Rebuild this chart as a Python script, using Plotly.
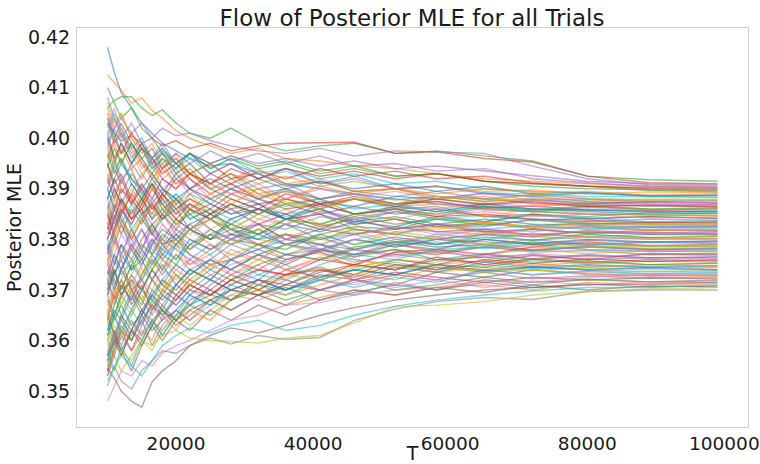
import plotly.graph_objects as go

# Sample sizes (T) at which each trial's posterior MLE is read
T = [10000, 11000, 12000, 13500, 15000, 16500, 18000, 20000, 22000, 25000, 28000,
     32000, 36000, 41000, 46000, 52000, 58000, 65000, 72000, 80000, 89000, 99000]

# Trials that stand out above the band
trials_high = [
    [0.4180, 0.4130, 0.4090, 0.4060, 0.4030, 0.4010, 0.3990, 0.3975, 0.3960, 0.3945, 0.3950, 0.3930, 0.3910, 0.3900, 0.3890, 0.3880, 0.3870, 0.3865, 0.3860, 0.3855, 0.3850, 0.3852],
    [0.4125, 0.4110, 0.4095, 0.4070, 0.4080, 0.4055, 0.4040, 0.4015, 0.4000, 0.3985, 0.3970, 0.3980, 0.3960, 0.3955, 0.3945, 0.3940, 0.3930, 0.3920, 0.3915, 0.3910, 0.3905, 0.3903],
    [0.4060, 0.4075, 0.4082, 0.4082, 0.4060, 0.4045, 0.4056, 0.4030, 0.4010, 0.4000, 0.4020, 0.3990, 0.3975, 0.3985, 0.3990, 0.3970, 0.3975, 0.3965, 0.3955, 0.3925, 0.3918, 0.3915],
    [0.4030, 0.4010, 0.3995, 0.4005, 0.3990, 0.4000, 0.3985, 0.3995, 0.3980, 0.3990, 0.3975, 0.3985, 0.3990, 0.3991, 0.3992, 0.3970, 0.3973, 0.3960, 0.3953, 0.3925, 0.3912, 0.3910],
    [0.3990, 0.4020, 0.4040, 0.4010, 0.4030, 0.4000, 0.4020, 0.4005, 0.4010, 0.3995, 0.3985, 0.3975, 0.3970, 0.3980, 0.3965, 0.3975, 0.3973, 0.3970, 0.3945, 0.3920, 0.3908, 0.3905],
]

# Trials that stand out below the band
trials_low = [
    [0.3545, 0.3525, 0.3500, 0.3480, 0.3468, 0.3518, 0.3540, 0.3560, 0.3590, 0.3610, 0.3625, 0.3615, 0.3630, 0.3650, 0.3665, 0.3680, 0.3690, 0.3700, 0.3705, 0.3710, 0.3712, 0.3715],
    [0.3480, 0.3510, 0.3540, 0.3530, 0.3560, 0.3550, 0.3575, 0.3590, 0.3600, 0.3620, 0.3640, 0.3650, 0.3670, 0.3675, 0.3690, 0.3700, 0.3705, 0.3720, 0.3715, 0.3725, 0.3730, 0.3728],
    [0.3510, 0.3549, 0.3520, 0.3504, 0.3540, 0.3560, 0.3580, 0.3575, 0.3590, 0.3605, 0.3593, 0.3610, 0.3602, 0.3606, 0.3640, 0.3662, 0.3677, 0.3685, 0.3681, 0.3697, 0.3700, 0.3700],
    [0.3560, 0.3540, 0.3580, 0.3560, 0.3600, 0.3590, 0.3610, 0.3620, 0.3605, 0.3600, 0.3598, 0.3595, 0.3605, 0.3610, 0.3635, 0.3667, 0.3670, 0.3677, 0.3690, 0.3697, 0.3702, 0.3705],
    [0.3520, 0.3550, 0.3570, 0.3550, 0.3530, 0.3560, 0.3590, 0.3610, 0.3625, 0.3615, 0.3630, 0.3640, 0.3620, 0.3630, 0.3650, 0.3668, 0.3680, 0.3690, 0.3698, 0.3705, 0.3705, 0.3710],
]

# Trials inside the band, lower half (by final value)
trials_band_lower = [
    [0.3620, 0.3660, 0.3640, 0.3690, 0.3650, 0.3700, 0.3680, 0.3710, 0.3690, 0.3720, 0.3700, 0.3690, 0.3705, 0.3680, 0.3695, 0.3710, 0.3700, 0.3715, 0.3705, 0.3712, 0.3706, 0.3708],
    [0.3850, 0.3800, 0.3760, 0.3790, 0.3740, 0.3720, 0.3760, 0.3730, 0.3700, 0.3680, 0.3700, 0.3690, 0.3670, 0.3685, 0.3700, 0.3690, 0.3705, 0.3710, 0.3700, 0.3715, 0.3710, 0.3712],
    [0.3570, 0.3600, 0.3650, 0.3620, 0.3660, 0.3640, 0.3610, 0.3650, 0.3670, 0.3650, 0.3680, 0.3700, 0.3680, 0.3700, 0.3720, 0.3700, 0.3710, 0.3725, 0.3715, 0.3720, 0.3716, 0.3718],
    [0.3950, 0.3900, 0.3870, 0.3840, 0.3860, 0.3810, 0.3790, 0.3800, 0.3770, 0.3750, 0.3760, 0.3740, 0.3730, 0.3745, 0.3720, 0.3735, 0.3725, 0.3715, 0.3725, 0.3720, 0.3724, 0.3722],
    [0.3700, 0.3740, 0.3690, 0.3720, 0.3680, 0.3650, 0.3690, 0.3670, 0.3700, 0.3690, 0.3710, 0.3690, 0.3720, 0.3700, 0.3715, 0.3730, 0.3720, 0.3735, 0.3722, 0.3728, 0.3723, 0.3725],
    [0.3780, 0.3730, 0.3760, 0.3700, 0.3720, 0.3680, 0.3660, 0.3640, 0.3660, 0.3680, 0.3660, 0.3690, 0.3710, 0.3700, 0.3720, 0.3710, 0.3735, 0.3725, 0.3740, 0.3732, 0.3728, 0.3730],
    [0.3640, 0.3590, 0.3620, 0.3580, 0.3610, 0.3640, 0.3620, 0.3660, 0.3640, 0.3670, 0.3690, 0.3680, 0.3700, 0.3720, 0.3710, 0.3730, 0.3720, 0.3740, 0.3730, 0.3736, 0.3731, 0.3733],
    [0.4010, 0.3960, 0.3920, 0.3940, 0.3890, 0.3860, 0.3880, 0.3840, 0.3820, 0.3800, 0.3810, 0.3790, 0.3770, 0.3780, 0.3760, 0.3750, 0.3745, 0.3735, 0.3745, 0.3740, 0.3736, 0.3738],
    [0.3590, 0.3630, 0.3600, 0.3650, 0.3700, 0.3670, 0.3720, 0.3690, 0.3710, 0.3690, 0.3720, 0.3700, 0.3725, 0.3745, 0.3730, 0.3750, 0.3735, 0.3745, 0.3738, 0.3744, 0.3740, 0.3741],
    [0.3820, 0.3860, 0.3830, 0.3790, 0.3820, 0.3780, 0.3760, 0.3790, 0.3770, 0.3740, 0.3760, 0.3730, 0.3750, 0.3720, 0.3740, 0.3755, 0.3740, 0.3750, 0.3742, 0.3748, 0.3744, 0.3745],
    [0.3680, 0.3640, 0.3670, 0.3630, 0.3650, 0.3620, 0.3640, 0.3660, 0.3690, 0.3670, 0.3700, 0.3720, 0.3700, 0.3730, 0.3720, 0.3745, 0.3735, 0.3755, 0.3745, 0.3750, 0.3746, 0.3748],
    [0.3920, 0.3960, 0.3900, 0.3880, 0.3850, 0.3870, 0.3830, 0.3800, 0.3820, 0.3790, 0.3770, 0.3790, 0.3760, 0.3775, 0.3745, 0.3760, 0.3750, 0.3758, 0.3748, 0.3755, 0.3750, 0.3752],
    [0.3550, 0.3600, 0.3570, 0.3620, 0.3590, 0.3630, 0.3660, 0.3640, 0.3670, 0.3690, 0.3680, 0.3710, 0.3700, 0.3720, 0.3740, 0.3730, 0.3750, 0.3745, 0.3760, 0.3752, 0.3757, 0.3755],
    [0.3760, 0.3720, 0.3690, 0.3730, 0.3700, 0.3740, 0.3710, 0.3690, 0.3720, 0.3700, 0.3730, 0.3710, 0.3740, 0.3725, 0.3750, 0.3740, 0.3765, 0.3750, 0.3762, 0.3755, 0.3760, 0.3758],
    [0.4050, 0.4010, 0.3970, 0.3990, 0.3950, 0.3930, 0.3900, 0.3880, 0.3860, 0.3840, 0.3820, 0.3830, 0.3800, 0.3790, 0.3780, 0.3770, 0.3775, 0.3765, 0.3770, 0.3760, 0.3764, 0.3762],
    [0.3650, 0.3610, 0.3580, 0.3620, 0.3600, 0.3640, 0.3660, 0.3630, 0.3650, 0.3680, 0.3700, 0.3690, 0.3710, 0.3740, 0.3730, 0.3760, 0.3750, 0.3770, 0.3760, 0.3768, 0.3763, 0.3765],
    [0.3870, 0.3830, 0.3850, 0.3800, 0.3770, 0.3800, 0.3760, 0.3740, 0.3760, 0.3730, 0.3750, 0.3770, 0.3740, 0.3760, 0.3780, 0.3765, 0.3780, 0.3760, 0.3772, 0.3765, 0.3770, 0.3768],
    [0.3720, 0.3770, 0.3740, 0.3790, 0.3760, 0.3800, 0.3780, 0.3820, 0.3800, 0.3780, 0.3800, 0.3790, 0.3770, 0.3790, 0.3765, 0.3780, 0.3770, 0.3785, 0.3775, 0.3778, 0.3770, 0.3772],
    [0.3600, 0.3570, 0.3540, 0.3570, 0.3600, 0.3580, 0.3620, 0.3650, 0.3630, 0.3660, 0.3690, 0.3710, 0.3730, 0.3720, 0.3745, 0.3760, 0.3755, 0.3770, 0.3780, 0.3772, 0.3777, 0.3775],
    [0.3980, 0.3940, 0.3960, 0.3920, 0.3890, 0.3910, 0.3870, 0.3890, 0.3860, 0.3840, 0.3820, 0.3810, 0.3830, 0.3800, 0.3810, 0.3790, 0.3795, 0.3782, 0.3790, 0.3780, 0.3776, 0.3778],
    [0.3800, 0.3840, 0.3880, 0.3850, 0.3880, 0.3840, 0.3860, 0.3830, 0.3850, 0.3820, 0.3800, 0.3820, 0.3790, 0.3805, 0.3780, 0.3795, 0.3785, 0.3790, 0.3778, 0.3785, 0.3780, 0.3781],
    [0.3660, 0.3700, 0.3670, 0.3710, 0.3680, 0.3720, 0.3700, 0.3740, 0.3720, 0.3750, 0.3730, 0.3760, 0.3740, 0.3765, 0.3750, 0.3775, 0.3770, 0.3790, 0.3780, 0.3788, 0.3782, 0.3784],
    [0.4100, 0.4070, 0.4040, 0.4060, 0.4020, 0.4000, 0.3970, 0.3950, 0.3930, 0.3900, 0.3880, 0.3860, 0.3840, 0.3850, 0.3820, 0.3810, 0.3800, 0.3795, 0.3790, 0.3792, 0.3786, 0.3787],
    [0.3540, 0.3580, 0.3620, 0.3600, 0.3640, 0.3670, 0.3650, 0.3680, 0.3710, 0.3690, 0.3720, 0.3740, 0.3730, 0.3760, 0.3750, 0.3775, 0.3780, 0.3770, 0.3785, 0.3795, 0.3788, 0.3790],
    [0.3900, 0.3860, 0.3880, 0.3840, 0.3860, 0.3830, 0.3850, 0.3810, 0.3830, 0.3800, 0.3820, 0.3790, 0.3810, 0.3780, 0.3800, 0.3785, 0.3800, 0.3790, 0.3800, 0.3790, 0.3795, 0.3793],
    [0.3750, 0.3710, 0.3740, 0.3700, 0.3660, 0.3690, 0.3720, 0.3700, 0.3730, 0.3760, 0.3740, 0.3770, 0.3750, 0.3780, 0.3770, 0.3790, 0.3780, 0.3800, 0.3790, 0.3798, 0.3794, 0.3796],
    [0.4000, 0.4040, 0.4010, 0.3970, 0.3990, 0.3950, 0.3920, 0.3940, 0.3900, 0.3880, 0.3900, 0.3870, 0.3850, 0.3860, 0.3830, 0.3840, 0.3815, 0.3810, 0.3805, 0.3800, 0.3802, 0.3799],
    [0.3690, 0.3650, 0.3620, 0.3660, 0.3700, 0.3740, 0.3710, 0.3750, 0.3730, 0.3760, 0.3790, 0.3770, 0.3790, 0.3775, 0.3800, 0.3785, 0.3800, 0.3810, 0.3798, 0.3805, 0.3800, 0.3802],
    [0.3850, 0.3890, 0.3860, 0.3900, 0.3870, 0.3910, 0.3890, 0.3860, 0.3880, 0.3850, 0.3870, 0.3840, 0.3860, 0.3830, 0.3820, 0.3810, 0.3800, 0.3815, 0.3805, 0.3810, 0.3803, 0.3805],
    [0.3610, 0.3650, 0.3690, 0.3660, 0.3700, 0.3680, 0.3720, 0.3750, 0.3730, 0.3760, 0.3740, 0.3770, 0.3790, 0.3780, 0.3800, 0.3790, 0.3810, 0.3800, 0.3812, 0.3805, 0.3810, 0.3808],
]

# Trials inside the band, upper half (by final value)
trials_band_upper = [
    [0.3950, 0.3910, 0.3930, 0.3880, 0.3850, 0.3870, 0.3840, 0.3860, 0.3820, 0.3840, 0.3810, 0.3830, 0.3800, 0.3820, 0.3810, 0.3825, 0.3815, 0.3820, 0.3808, 0.3815, 0.3810, 0.3811],
    [0.3730, 0.3770, 0.3810, 0.3780, 0.3820, 0.3790, 0.3830, 0.3800, 0.3780, 0.3810, 0.3790, 0.3820, 0.3800, 0.3830, 0.3810, 0.3825, 0.3810, 0.3818, 0.3810, 0.3816, 0.3812, 0.3814],
    [0.3580, 0.3620, 0.3590, 0.3640, 0.3610, 0.3660, 0.3690, 0.3670, 0.3700, 0.3730, 0.3710, 0.3740, 0.3770, 0.3760, 0.3780, 0.3800, 0.3790, 0.3810, 0.3820, 0.3812, 0.3818, 0.3817],
    [0.4070, 0.4030, 0.4050, 0.4000, 0.3980, 0.3950, 0.3970, 0.3930, 0.3950, 0.3910, 0.3890, 0.3900, 0.3870, 0.3880, 0.3850, 0.3860, 0.3840, 0.3835, 0.3825, 0.3822, 0.3818, 0.3820],
    [0.3800, 0.3760, 0.3730, 0.3760, 0.3720, 0.3750, 0.3780, 0.3760, 0.3790, 0.3770, 0.3800, 0.3780, 0.3810, 0.3800, 0.3820, 0.3810, 0.3830, 0.3820, 0.3828, 0.3820, 0.3825, 0.3823],
    [0.3880, 0.3920, 0.3950, 0.3920, 0.3900, 0.3930, 0.3900, 0.3880, 0.3900, 0.3870, 0.3850, 0.3870, 0.3840, 0.3860, 0.3835, 0.3845, 0.3830, 0.3840, 0.3830, 0.3828, 0.3824, 0.3826],
    [0.3640, 0.3690, 0.3720, 0.3690, 0.3730, 0.3760, 0.3740, 0.3770, 0.3750, 0.3780, 0.3800, 0.3790, 0.3810, 0.3800, 0.3820, 0.3810, 0.3825, 0.3835, 0.3825, 0.3832, 0.3827, 0.3829],
    [0.3700, 0.3740, 0.3700, 0.3750, 0.3790, 0.3770, 0.3810, 0.3790, 0.3820, 0.3800, 0.3830, 0.3810, 0.3840, 0.3820, 0.3845, 0.3830, 0.3840, 0.3828, 0.3838, 0.3830, 0.3834, 0.3832],
    [0.3960, 0.4000, 0.3970, 0.4010, 0.3980, 0.3960, 0.3930, 0.3950, 0.3920, 0.3890, 0.3910, 0.3880, 0.3860, 0.3870, 0.3850, 0.3860, 0.3845, 0.3850, 0.3840, 0.3838, 0.3833, 0.3835],
    [0.3560, 0.3600, 0.3640, 0.3610, 0.3650, 0.3690, 0.3670, 0.3710, 0.3740, 0.3720, 0.3760, 0.3780, 0.3800, 0.3790, 0.3810, 0.3820, 0.3830, 0.3825, 0.3840, 0.3835, 0.3840, 0.3838],
    [0.3830, 0.3870, 0.3840, 0.3800, 0.3840, 0.3810, 0.3850, 0.3820, 0.3860, 0.3840, 0.3870, 0.3850, 0.3870, 0.3850, 0.3865, 0.3850, 0.3860, 0.3845, 0.3850, 0.3842, 0.3845, 0.3841],
    [0.3760, 0.3800, 0.3770, 0.3810, 0.3780, 0.3820, 0.3790, 0.3830, 0.3810, 0.3840, 0.3820, 0.3850, 0.3830, 0.3855, 0.3840, 0.3860, 0.3848, 0.3855, 0.3845, 0.3850, 0.3842, 0.3844],
    [0.4030, 0.3990, 0.4010, 0.3960, 0.3990, 0.3950, 0.3970, 0.3930, 0.3950, 0.3910, 0.3930, 0.3900, 0.3910, 0.3880, 0.3890, 0.3870, 0.3875, 0.3860, 0.3855, 0.3850, 0.3849, 0.3847],
    [0.3670, 0.3710, 0.3680, 0.3730, 0.3770, 0.3740, 0.3780, 0.3800, 0.3780, 0.3810, 0.3790, 0.3820, 0.3840, 0.3830, 0.3850, 0.3840, 0.3855, 0.3845, 0.3860, 0.3852, 0.3848, 0.3850],
    [0.3900, 0.3860, 0.3830, 0.3870, 0.3840, 0.3880, 0.3850, 0.3890, 0.3860, 0.3880, 0.3860, 0.3880, 0.3865, 0.3880, 0.3860, 0.3870, 0.3855, 0.3865, 0.3855, 0.3860, 0.3855, 0.3853],
    [0.3740, 0.3700, 0.3740, 0.3780, 0.3750, 0.3790, 0.3820, 0.3800, 0.3830, 0.3850, 0.3830, 0.3860, 0.3840, 0.3870, 0.3850, 0.3865, 0.3855, 0.3870, 0.3860, 0.3858, 0.3854, 0.3856],
    [0.3990, 0.3950, 0.3980, 0.3940, 0.3960, 0.3920, 0.3940, 0.3960, 0.3930, 0.3950, 0.3920, 0.3940, 0.3910, 0.3920, 0.3895, 0.3900, 0.3880, 0.3885, 0.3870, 0.3865, 0.3860, 0.3859],
    [0.3610, 0.3650, 0.3690, 0.3720, 0.3700, 0.3740, 0.3770, 0.3750, 0.3790, 0.3810, 0.3830, 0.3810, 0.3840, 0.3830, 0.3850, 0.3860, 0.3850, 0.3865, 0.3858, 0.3866, 0.3860, 0.3862],
    [0.3850, 0.3810, 0.3850, 0.3890, 0.3860, 0.3900, 0.3870, 0.3840, 0.3870, 0.3850, 0.3880, 0.3860, 0.3890, 0.3870, 0.3885, 0.3870, 0.3880, 0.3868, 0.3875, 0.3865, 0.3868, 0.3865],
    [0.4080, 0.4040, 0.4000, 0.4030, 0.3990, 0.3960, 0.3990, 0.3950, 0.3970, 0.3930, 0.3950, 0.3920, 0.3940, 0.3910, 0.3925, 0.3900, 0.3905, 0.3890, 0.3885, 0.3875, 0.3870, 0.3868],
    [0.3710, 0.3750, 0.3790, 0.3760, 0.3800, 0.3830, 0.3800, 0.3840, 0.3820, 0.3850, 0.3870, 0.3850, 0.3880, 0.3860, 0.3880, 0.3865, 0.3880, 0.3870, 0.3878, 0.3870, 0.3874, 0.3871],
    [0.3930, 0.3890, 0.3920, 0.3880, 0.3910, 0.3870, 0.3900, 0.3920, 0.3890, 0.3910, 0.3890, 0.3910, 0.3880, 0.3900, 0.3885, 0.3895, 0.3880, 0.3890, 0.3878, 0.3880, 0.3872, 0.3874],
    [0.3780, 0.3820, 0.3860, 0.3830, 0.3870, 0.3840, 0.3880, 0.3850, 0.3890, 0.3870, 0.3900, 0.3880, 0.3900, 0.3880, 0.3895, 0.3885, 0.3895, 0.3880, 0.3888, 0.3880, 0.3876, 0.3877],
    [0.3630, 0.3670, 0.3720, 0.3760, 0.3730, 0.3770, 0.3800, 0.3780, 0.3820, 0.3840, 0.3820, 0.3850, 0.3870, 0.3860, 0.3880, 0.3870, 0.3885, 0.3875, 0.3890, 0.3882, 0.3878, 0.3880],
    [0.4010, 0.4050, 0.4020, 0.3980, 0.4000, 0.3960, 0.3980, 0.3950, 0.3970, 0.3940, 0.3960, 0.3930, 0.3940, 0.3920, 0.3930, 0.3910, 0.3915, 0.3900, 0.3895, 0.3890, 0.3885, 0.3884],
    [0.3860, 0.3900, 0.3870, 0.3910, 0.3880, 0.3920, 0.3890, 0.3930, 0.3900, 0.3920, 0.3900, 0.3920, 0.3900, 0.3915, 0.3900, 0.3910, 0.3895, 0.3905, 0.3890, 0.3893, 0.3886, 0.3887],
    [0.3750, 0.3790, 0.3830, 0.3800, 0.3840, 0.3870, 0.3850, 0.3880, 0.3860, 0.3890, 0.3870, 0.3900, 0.3880, 0.3905, 0.3890, 0.3900, 0.3890, 0.3900, 0.3893, 0.3895, 0.3888, 0.3890],
    [0.3940, 0.3980, 0.3950, 0.3990, 0.3960, 0.3930, 0.3960, 0.3940, 0.3970, 0.3940, 0.3960, 0.3940, 0.3950, 0.3930, 0.3940, 0.3925, 0.3930, 0.3915, 0.3910, 0.3905, 0.3897, 0.3894],
    [0.3820, 0.3860, 0.3900, 0.3870, 0.3910, 0.3880, 0.3920, 0.3900, 0.3930, 0.3910, 0.3940, 0.3920, 0.3940, 0.3925, 0.3935, 0.3920, 0.3930, 0.3915, 0.3910, 0.3905, 0.3900, 0.3898],
    [0.3900, 0.3940, 0.3910, 0.3950, 0.3920, 0.3960, 0.3940, 0.3970, 0.3950, 0.3975, 0.3955, 0.3970, 0.3950, 0.3965, 0.3945, 0.3950, 0.3935, 0.3940, 0.3920, 0.3912, 0.3905, 0.3902],
]

# Further trials that fill the dense part of the band
trials_band_extra = [
    [0.3570, 0.3620, 0.3580, 0.3540, 0.3590, 0.3630, 0.3600, 0.3640, 0.3620, 0.3660, 0.3640, 0.3670, 0.3650, 0.3680, 0.3700, 0.3690, 0.3705, 0.3695, 0.3710, 0.3700, 0.3708, 0.3706],
    [0.3880, 0.3830, 0.3870, 0.3820, 0.3780, 0.3820, 0.3770, 0.3790, 0.3750, 0.3770, 0.3730, 0.3750, 0.3720, 0.3700, 0.3720, 0.3705, 0.3720, 0.3705, 0.3718, 0.3710, 0.3716, 0.3714],
    [0.3660, 0.3610, 0.3650, 0.3600, 0.3640, 0.3590, 0.3630, 0.3660, 0.3640, 0.3680, 0.3660, 0.3690, 0.3670, 0.3700, 0.3690, 0.3715, 0.3700, 0.3720, 0.3710, 0.3722, 0.3716, 0.3720],
    [0.4040, 0.3990, 0.4020, 0.3970, 0.3930, 0.3950, 0.3900, 0.3870, 0.3890, 0.3850, 0.3820, 0.3800, 0.3790, 0.3770, 0.3760, 0.3745, 0.3750, 0.3735, 0.3740, 0.3730, 0.3728, 0.3727],
    [0.3600, 0.3650, 0.3610, 0.3660, 0.3630, 0.3680, 0.3650, 0.3690, 0.3670, 0.3700, 0.3680, 0.3710, 0.3690, 0.3720, 0.3705, 0.3725, 0.3715, 0.3740, 0.3730, 0.3738, 0.3732, 0.3735],
    [0.3790, 0.3750, 0.3790, 0.3740, 0.3760, 0.3720, 0.3750, 0.3710, 0.3740, 0.3720, 0.3700, 0.3720, 0.3700, 0.3725, 0.3740, 0.3730, 0.3750, 0.3738, 0.3746, 0.3740, 0.3744, 0.3740],
    [0.3530, 0.3580, 0.3620, 0.3580, 0.3620, 0.3600, 0.3650, 0.3620, 0.3660, 0.3640, 0.3680, 0.3700, 0.3690, 0.3710, 0.3730, 0.3720, 0.3745, 0.3740, 0.3752, 0.3745, 0.3750, 0.3747],
    [0.3970, 0.3930, 0.3960, 0.3910, 0.3880, 0.3910, 0.3860, 0.3880, 0.3840, 0.3860, 0.3820, 0.3800, 0.3810, 0.3790, 0.3770, 0.3780, 0.3760, 0.3765, 0.3755, 0.3758, 0.3750, 0.3753],
    [0.3720, 0.3680, 0.3720, 0.3670, 0.3710, 0.3660, 0.3700, 0.3680, 0.3710, 0.3690, 0.3720, 0.3700, 0.3730, 0.3740, 0.3725, 0.3750, 0.3740, 0.3760, 0.3752, 0.3762, 0.3756, 0.3760],
    [0.3830, 0.3790, 0.3830, 0.3780, 0.3820, 0.3770, 0.3800, 0.3780, 0.3760, 0.3790, 0.3760, 0.3780, 0.3760, 0.3775, 0.3755, 0.3770, 0.3760, 0.3772, 0.3762, 0.3770, 0.3764, 0.3766],
    [0.3560, 0.3610, 0.3570, 0.3620, 0.3660, 0.3630, 0.3670, 0.3640, 0.3680, 0.3700, 0.3680, 0.3720, 0.3710, 0.3735, 0.3750, 0.3740, 0.3760, 0.3755, 0.3768, 0.3760, 0.3772, 0.3770],
    [0.4020, 0.4060, 0.4010, 0.3980, 0.3940, 0.3960, 0.3920, 0.3900, 0.3920, 0.3880, 0.3860, 0.3870, 0.3840, 0.3820, 0.3830, 0.3800, 0.3805, 0.3790, 0.3785, 0.3780, 0.3778, 0.3776],
    [0.3690, 0.3740, 0.3700, 0.3750, 0.3720, 0.3760, 0.3730, 0.3770, 0.3740, 0.3760, 0.3740, 0.3770, 0.3755, 0.3780, 0.3765, 0.3790, 0.3775, 0.3785, 0.3778, 0.3786, 0.3780, 0.3782],
    [0.3880, 0.3920, 0.3880, 0.3850, 0.3890, 0.3840, 0.3870, 0.3830, 0.3860, 0.3820, 0.3840, 0.3810, 0.3830, 0.3800, 0.3815, 0.3795, 0.3805, 0.3790, 0.3795, 0.3785, 0.3788, 0.3786],
    [0.3580, 0.3540, 0.3590, 0.3550, 0.3600, 0.3640, 0.3610, 0.3650, 0.3690, 0.3670, 0.3710, 0.3730, 0.3720, 0.3750, 0.3770, 0.3760, 0.3780, 0.3785, 0.3795, 0.3788, 0.3794, 0.3792],
    [0.3770, 0.3810, 0.3770, 0.3820, 0.3780, 0.3830, 0.3790, 0.3810, 0.3780, 0.3810, 0.3790, 0.3810, 0.3790, 0.3810, 0.3790, 0.3805, 0.3790, 0.3800, 0.3792, 0.3800, 0.3795, 0.3797],
    [0.4060, 0.4020, 0.4050, 0.4000, 0.3970, 0.3990, 0.3950, 0.3970, 0.3930, 0.3910, 0.3930, 0.3890, 0.3870, 0.3880, 0.3850, 0.3840, 0.3825, 0.3815, 0.3810, 0.3805, 0.3803, 0.3801],
    [0.3640, 0.3690, 0.3650, 0.3700, 0.3670, 0.3720, 0.3690, 0.3730, 0.3710, 0.3740, 0.3720, 0.3750, 0.3770, 0.3760, 0.3785, 0.3795, 0.3790, 0.3805, 0.3798, 0.3810, 0.3804, 0.3806],
    [0.3920, 0.3880, 0.3920, 0.3870, 0.3900, 0.3860, 0.3890, 0.3850, 0.3870, 0.3840, 0.3860, 0.3830, 0.3850, 0.3825, 0.3840, 0.3820, 0.3830, 0.3815, 0.3820, 0.3812, 0.3814, 0.3810],
    [0.3530, 0.3570, 0.3610, 0.3580, 0.3630, 0.3670, 0.3640, 0.3690, 0.3670, 0.3710, 0.3740, 0.3720, 0.3760, 0.3780, 0.3770, 0.3795, 0.3800, 0.3810, 0.3805, 0.3818, 0.3812, 0.3815],
    [0.3810, 0.3850, 0.3810, 0.3860, 0.3830, 0.3870, 0.3840, 0.3880, 0.3850, 0.3870, 0.3850, 0.3860, 0.3840, 0.3850, 0.3830, 0.3840, 0.3825, 0.3832, 0.3822, 0.3825, 0.3818, 0.3819],
    [0.3710, 0.3670, 0.3710, 0.3680, 0.3720, 0.3700, 0.3740, 0.3720, 0.3760, 0.3740, 0.3780, 0.3760, 0.3790, 0.3780, 0.3800, 0.3815, 0.3805, 0.3820, 0.3815, 0.3826, 0.3820, 0.3824],
    [0.4000, 0.3960, 0.3990, 0.3950, 0.3980, 0.3940, 0.3960, 0.3920, 0.3940, 0.3900, 0.3920, 0.3890, 0.3900, 0.3870, 0.3880, 0.3860, 0.3865, 0.3845, 0.3840, 0.3832, 0.3830, 0.3828],
    [0.3600, 0.3640, 0.3680, 0.3650, 0.3690, 0.3660, 0.3700, 0.3730, 0.3710, 0.3750, 0.3770, 0.3760, 0.3790, 0.3800, 0.3790, 0.3815, 0.3820, 0.3830, 0.3825, 0.3836, 0.3830, 0.3833],
    [0.3860, 0.3820, 0.3860, 0.3820, 0.3850, 0.3810, 0.3840, 0.3870, 0.3840, 0.3860, 0.3840, 0.3860, 0.3845, 0.3860, 0.3840, 0.3855, 0.3840, 0.3848, 0.3838, 0.3842, 0.3835, 0.3837],
    [0.3690, 0.3730, 0.3770, 0.3740, 0.3780, 0.3750, 0.3790, 0.3760, 0.3800, 0.3780, 0.3810, 0.3800, 0.3830, 0.3815, 0.3835, 0.3825, 0.3845, 0.3835, 0.3848, 0.3840, 0.3845, 0.3842],
    [0.3950, 0.3990, 0.3950, 0.3990, 0.3950, 0.3920, 0.3950, 0.3910, 0.3930, 0.3900, 0.3910, 0.3885, 0.3895, 0.3870, 0.3880, 0.3865, 0.3870, 0.3858, 0.3855, 0.3850, 0.3848, 0.3846],
    [0.3540, 0.3590, 0.3630, 0.3600, 0.3650, 0.3690, 0.3660, 0.3710, 0.3740, 0.3720, 0.3760, 0.3790, 0.3780, 0.3810, 0.3825, 0.3820, 0.3840, 0.3835, 0.3850, 0.3845, 0.3853, 0.3851],
    [0.3800, 0.3840, 0.3880, 0.3840, 0.3880, 0.3850, 0.3890, 0.3860, 0.3880, 0.3860, 0.3890, 0.3870, 0.3880, 0.3865, 0.3880, 0.3870, 0.3875, 0.3862, 0.3866, 0.3858, 0.3857, 0.3855],
    [0.3730, 0.3770, 0.3740, 0.3790, 0.3760, 0.3800, 0.3770, 0.3810, 0.3790, 0.3820, 0.3800, 0.3830, 0.3820, 0.3845, 0.3835, 0.3855, 0.3845, 0.3862, 0.3855, 0.3864, 0.3858, 0.3860],
    [0.4040, 0.4000, 0.4030, 0.3990, 0.3960, 0.3980, 0.3940, 0.3960, 0.3930, 0.3950, 0.3920, 0.3930, 0.3905, 0.3915, 0.3895, 0.3900, 0.3885, 0.3880, 0.3872, 0.3868, 0.3866, 0.3864],
    [0.3650, 0.3700, 0.3740, 0.3710, 0.3750, 0.3790, 0.3760, 0.3800, 0.3780, 0.3820, 0.3800, 0.3840, 0.3830, 0.3855, 0.3845, 0.3865, 0.3860, 0.3872, 0.3865, 0.3872, 0.3866, 0.3869],
    [0.3880, 0.3920, 0.3890, 0.3930, 0.3900, 0.3870, 0.3900, 0.3870, 0.3900, 0.3880, 0.3900, 0.3880, 0.3895, 0.3880, 0.3890, 0.3878, 0.3885, 0.3875, 0.3880, 0.3872, 0.3875, 0.3873],
    [0.3760, 0.3800, 0.3840, 0.3810, 0.3850, 0.3820, 0.3860, 0.3830, 0.3860, 0.3840, 0.3870, 0.3850, 0.3875, 0.3860, 0.3880, 0.3870, 0.3885, 0.3875, 0.3882, 0.3876, 0.3880, 0.3878],
    [0.3980, 0.4020, 0.3990, 0.3950, 0.3980, 0.3940, 0.3970, 0.3940, 0.3960, 0.3930, 0.3950, 0.3920, 0.3935, 0.3910, 0.3920, 0.3900, 0.3905, 0.3892, 0.3890, 0.3885, 0.3884, 0.3883],
    [0.3620, 0.3670, 0.3710, 0.3680, 0.3730, 0.3770, 0.3740, 0.3790, 0.3820, 0.3800, 0.3840, 0.3860, 0.3850, 0.3875, 0.3865, 0.3885, 0.3880, 0.3892, 0.3885, 0.3892, 0.3886, 0.3888],
    [0.3840, 0.3880, 0.3850, 0.3890, 0.3930, 0.3900, 0.3940, 0.3910, 0.3930, 0.3910, 0.3930, 0.3910, 0.3925, 0.3905, 0.3915, 0.3900, 0.3905, 0.3895, 0.3898, 0.3890, 0.3894, 0.3892],
    [0.3910, 0.3950, 0.3990, 0.3950, 0.3990, 0.3960, 0.3980, 0.3950, 0.3970, 0.3950, 0.3965, 0.3945, 0.3955, 0.3935, 0.3945, 0.3925, 0.3930, 0.3915, 0.3905, 0.3900, 0.3898, 0.3896],
    [0.3780, 0.3820, 0.3860, 0.3830, 0.3870, 0.3910, 0.3880, 0.3920, 0.3900, 0.3930, 0.3910, 0.3935, 0.3920, 0.3940, 0.3925, 0.3935, 0.3920, 0.3925, 0.3912, 0.3905, 0.3902, 0.3900],
    [0.4000, 0.3960, 0.3990, 0.3950, 0.3980, 0.3950, 0.3975, 0.3950, 0.3970, 0.3950, 0.3965, 0.3950, 0.3960, 0.3945, 0.3955, 0.3940, 0.3945, 0.3935, 0.3925, 0.3915, 0.3910, 0.3908],
]

x_tick_values = [20000, 40000, 60000, 80000, 100000]
y_tick_values = [0.35, 0.36, 0.37, 0.38, 0.39, 0.40, 0.41, 0.42]

palette = ["#1f77b4", "#ff7f0e", "#2ca02c", "#d62728", "#9467bd",
           "#8c564b", "#e377c2", "#7f7f7f", "#bcbd22", "#17becf"]

all_trials = (trials_band_lower + trials_high + trials_band_extra
              + trials_band_upper + trials_low)

fig = go.Figure()
for i, series in enumerate(all_trials):
    fig.add_trace(go.Scatter(
        x=T, y=series, mode="lines",
        line=dict(color=palette[i % len(palette)], width=1.4),
        opacity=0.55, showlegend=False, hoverinfo="skip",
    ))

font_family = "DejaVu Sans, Verdana, sans-serif"
text_color = "#1a1a1a"
axis_common = dict(
    showgrid=False, zeroline=False,
    showline=True, linecolor="#cfcfcf", linewidth=1, mirror=True,
    ticklabeloverflow="allow",
)

fig.update_layout(
    width=760, height=464,
    margin=dict(l=77, r=12, t=28, b=37),
    paper_bgcolor="white", plot_bgcolor="white",
    title=dict(text="Flow of Posterior MLE for all Trials",
               font=dict(family=font_family, size=23, color=text_color),
               x=412 / 760, xanchor="center", xref="container",
               y=1 - 18 / 464, yanchor="middle", yref="container"),
    xaxis=dict(range=[5550, 103450], tickvals=x_tick_values, tickformat="d",
               ticks="",
               tickfont=dict(family=font_family, size=18.5, color=text_color),
               title=dict(text="T", font=dict(family=font_family, size=19, color=text_color), standoff=5),
               automargin=False, **axis_common),
    yaxis=dict(range=[0.3429, 0.4218], tickvals=y_tick_values, tickformat=".2f",
               ticks="outside", ticklen=2, tickcolor="rgba(0,0,0,0)",
               tickfont=dict(family=font_family, size=19, color=text_color),
               title=dict(text="Posterior MLE", font=dict(family=font_family, size=19, color=text_color), standoff=1),
               automargin=False, **axis_common),
)

# Remove the page's default 8px body margin so the figure fills the window exactly
fig.write_html("out.html", config={"displayModeBar": False},
               post_script="document.body.style.margin='0';")
